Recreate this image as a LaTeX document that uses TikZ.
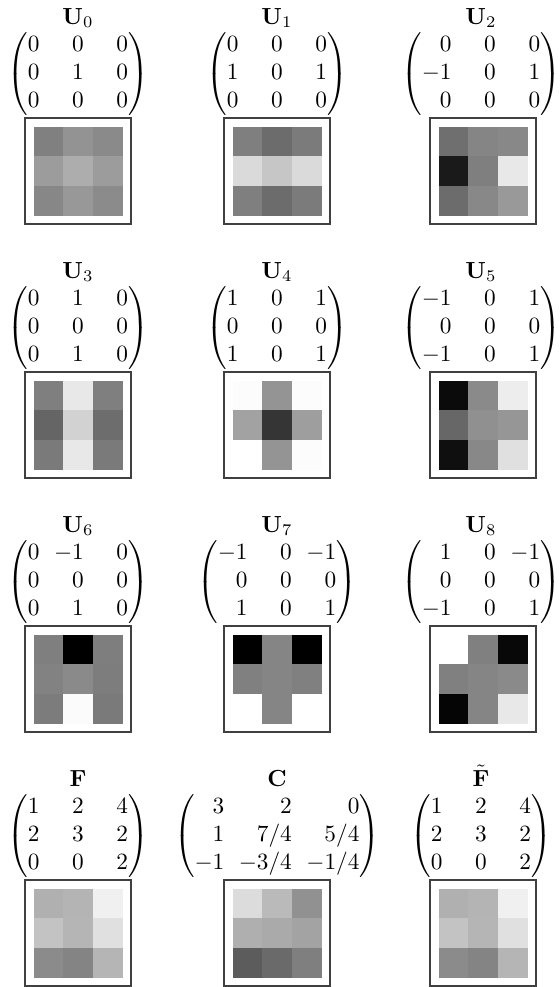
\documentclass[tikz,border=0pt]{standalone}
\usepackage{mathtools}
\usepackage{tikz}

\setlength{\arraycolsep}{7pt}
% minus sign that hangs into the column gap
\newcommand{\hm}{\mathllap{-}}

% 3x3 block of gray pixels centred in a frame node
\newcommand{\pixgrid}[2]{%
  \begin{scope}[shift={(#1.center)}]
    \foreach \v [count=\k from 0] in {#2} {
      \pgfmathtruncatemacro{\gr}{int(\k/3)}
      \pgfmathtruncatemacro{\gc}{mod(\k,3)}
      \definecolor{pix}{RGB}{\v,\v,\v}
      \fill[pix] (\gc*29.67-44.5,\gr*29.67-44.5) rectangle ++(29.67,29.67);
    }
  \end{scope}}

\begin{document}
\begin{tikzpicture}[x=0.4292pt,y=-0.4292pt]
\tikzstyle{every node}=[inner sep=0pt]
\tikzstyle{title}=[anchor=base]
\tikzstyle{frame}=[draw=black!75, line width=0.45pt,
  minimum width=45.5pt, minimum height=45.5pt]
\useasboundingbox (0,0) rectangle (559,987);

% row 1
\node[title] (lU0) at (78,24) {$\mathbf{U}_0$};
\node (mU0) at (78,74) {$\begin{pmatrix*}[r] 0&0&0\\ 0&1&0\\ 0&0&0 \end{pmatrix*}$};
\node[frame] (iU0) at (78,171) {};
\pixgrid{iU0}{128,147,138,156,173,156,135,152,139}

\node[title] (lU1) at (277,24) {$\mathbf{U}_1$};
\node (mU1) at (277,74) {$\begin{pmatrix*}[r] 0&0&0\\ 1&0&1\\ 0&0&0 \end{pmatrix*}$};
\node[frame] (iU1) at (277,171) {};
\pixgrid{iU1}{127,108,123,218,198,218,127,108,123}

\node[title] (lU2) at (481,24) {$\mathbf{U}_2$};
\node (mU2) at (481,74) {$\begin{pmatrix*}[r] 0&0&0\\ -1&0&1\\ 0&0&0 \end{pmatrix*}$};
\node[frame] (iU2) at (483,171) {};
\pixgrid{iU2}{111,133,136,26,127,232,108,136,153}

% row 2
\node[title] (lU3) at (78,278) {$\mathbf{U}_3$};
\node (mU3) at (78,328) {$\begin{pmatrix*}[r] 0&1&0\\ 0&0&0\\ 0&1&0 \end{pmatrix*}$};
\node[frame] (iU3) at (78,425) {};
\pixgrid{iU3}{127,232,127,101,210,109,122,232,122}

\node[title] (lU4) at (277,278) {$\mathbf{U}_4$};
\node (mU4) at (277,328) {$\begin{pmatrix*}[r] 1&0&1\\ 0&0&0\\ 1&0&1 \end{pmatrix*}$};
\node[frame] (iU4) at (277,425) {};
\pixgrid{iU4}{252,148,252,162,53,158,255,148,252}

\node[title] (lU5) at (481,278) {$\mathbf{U}_5$};
\node (mU5) at (481,328) {$\begin{pmatrix*}[r] -1&0&1\\ 0&0&0\\ -1&0&1 \end{pmatrix*}$};
\node[frame] (iU5) at (483,425) {};
\pixgrid{iU5}{11,138,237,103,144,150,15,136,224}

% row 3
\node[title] (lU6) at (78,532) {$\mathbf{U}_6$};
\node (mU6) at (78,582) {$\begin{pmatrix*}[r] 0&\hm1&0\\ 0&0&0\\ 0&1&0 \end{pmatrix*}$};
\node[frame] (iU6) at (78,679) {};
\pixgrid{iU6}{127,0,126,130,138,125,124,251,122}

\node[title] (lU7) at (277,532) {$\mathbf{U}_7$};
\node (mU7) at (277,582) {$\begin{pmatrix*}[r] -1&0&\hm1\\ 0&0&0\\ 1&0&1 \end{pmatrix*}$};
\node[frame] (iU7) at (277,679) {};
\pixgrid{iU7}{0,133,0,128,133,128,255,133,255}

\node[title] (lU8) at (481,532) {$\mathbf{U}_8$};
\node (mU8) at (481,582) {$\begin{pmatrix*}[r] 1&0&\hm1\\ 0&0&0\\ -1&0&1 \end{pmatrix*}$};
\node[frame] (iU8) at (483,679) {};
\pixgrid{iU8}{255,128,8,128,133,138,5,133,232}

% row 4
\node[title] (lF) at (78,786) {$\mathbf{F}$};
\node (mF) at (78,836) {$\begin{pmatrix*}[r] 1&2&4\\ 2&3&2\\ 0&0&2 \end{pmatrix*}$};
\node[frame] (iF) at (78,933) {};
\pixgrid{iF}{176,180,240,195,181,224,139,132,181}

\node[title] (lC) at (277,786) {$\mathbf{C}$};
\node (mC) at (277,836) {$\begin{pmatrix*}[r] 3&2&0\\ 1&7/4&5/4\\ -1&\hm3/4&\hm1/4 \end{pmatrix*}$};
\node[frame] (iC) at (277,933) {};
\pixgrid{iC}{220,186,145,175,170,163,92,106,127}

\node[title] (lFt) at (481,786) {$\tilde{\mathbf{F}}$};
\node (mFt) at (481,836) {$\begin{pmatrix*}[r] 1&2&4\\ 2&3&2\\ 0&0&2 \end{pmatrix*}$};
\node[frame] (iFt) at (483,933) {};
\pixgrid{iFt}{176,180,240,195,181,224,139,132,181}
\end{tikzpicture}
\end{document}
